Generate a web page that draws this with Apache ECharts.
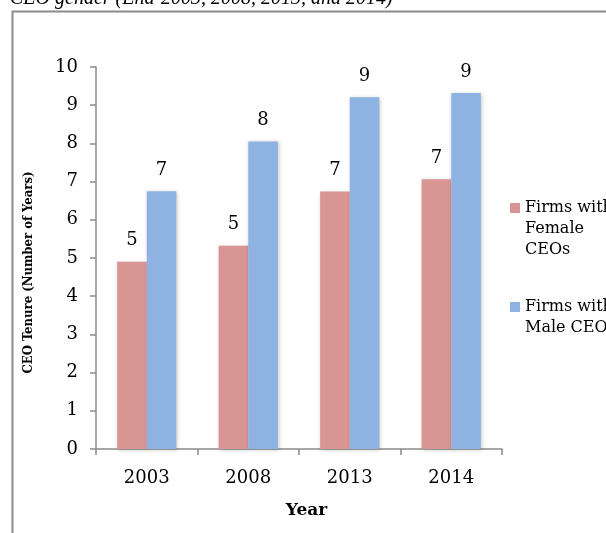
<!DOCTYPE html>
<html>
<head>
<meta charset="utf-8">
<style>
  html, body { margin: 0; padding: 0; background: #fff; }
  #chart { width: 606px; height: 533px; }
</style>
<script src="https://cdn.jsdelivr.net/npm/echarts@6/dist/echarts.min.js"></script>
</head>
<body>
<div id="chart"></div>
<script>
// Average CEO tenure (years) by year and CEO gender
const years = ['2003', '2008', '2013', '2014'];
const femaleTenure = [4.90, 5.32, 6.74, 7.06];
const maleTenure = [6.75, 8.05, 9.21, 9.32];
const seriesNames = ['Firms with Female CEOs', 'Firms with Male CEOs'];
const legendLines = [['Firms with', 'Female', 'CEOs'], ['Firms with', 'Male CEOs']];
const yTicks = [0, 1, 2, 3, 4, 5, 6, 7, 8, 9, 10];

const FEMALE_COLOR = '#D99594';
const MALE_COLOR = '#8EB3E2';
const FONT = '"DejaVu Serif", serif';
const NAME_FONT = '"DejaVu Serif Condensed", "Liberation Serif", serif';
const AXIS_GRAY = '#8a8a8a';

const chart = echarts.init(document.getElementById('chart'), null, { renderer: 'canvas' });

const barStyle = (color) => ({
  color: color,
  shadowColor: 'rgba(0,0,0,0.22)',
  shadowBlur: 4,
  shadowOffsetX: 1,
  shadowOffsetY: 1
});

const valueLabel = {
  show: true,
  position: 'top',
  distance: 12,
  fontFamily: FONT,
  fontSize: 18,
  color: '#000',
  formatter: (p) => String(Math.round(p.value))
};

// Legend drawn as swatch + wrapped text, first line aligned with the swatch
const legendColors = [FEMALE_COLOR, MALE_COLOR];
const legendTops = [203, 302];
const legendGraphics = [];
legendLines.forEach((lines, i) => {
  legendGraphics.push({
    type: 'rect',
    shape: { x: 510, y: legendTops[i], width: 10, height: 10 },
    style: { fill: legendColors[i] },
    silent: true
  });
  legendGraphics.push({
    type: 'text',
    x: 525,
    y: legendTops[i] + 5 - 10.5,
    style: {
      text: lines.join('\n'),
      font: '16px ' + FONT,
      lineHeight: 21,
      fill: '#000',
      verticalAlign: 'top'
    },
    silent: true
  });
});

const option = {
  animation: false,
  backgroundColor: '#fff',
  grid: { left: 96, right: 104, top: 67, bottom: 84, containLabel: false },
  xAxis: {
    type: 'category',
    data: years,
    name: 'Year',
    nameLocation: 'middle',
    nameGap: 53,
    nameTextStyle: { fontFamily: FONT, fontSize: 17, fontWeight: 'bold', color: '#000', padding: [0, 0, 0, 15] },
    axisLine: { lineStyle: { color: AXIS_GRAY, width: 1.5 } },
    axisTick: { show: true, alignWithLabel: false, length: 6, lineStyle: { color: AXIS_GRAY, width: 1.5 } },
    axisLabel: { fontFamily: FONT, fontSize: 18, color: '#000', margin: 20 }
  },
  yAxis: {
    type: 'value',
    min: yTicks[0],
    max: yTicks[yTicks.length - 1],
    interval: 1,
    name: 'CEO Tenure (Number of Years)',
    nameLocation: 'middle',
    nameGap: 61,
    nameRotate: 90,
    nameTextStyle: { fontFamily: NAME_FONT, fontSize: 13, fontWeight: 'bold', color: '#000', padding: [0, 29, 0, 0] },
    splitLine: { show: false },
    axisLine: { show: true, lineStyle: { color: AXIS_GRAY, width: 1.5 } },
    axisTick: { show: true, length: 6, lineStyle: { color: AXIS_GRAY, width: 1.5 } },
    axisLabel: { fontFamily: FONT, fontSize: 18, color: '#000', margin: 18 }
  },
  series: [
    {
      name: seriesNames[0],
      type: 'bar',
      data: femaleTenure,
      barWidth: 29.6,
      barGap: '0%',
      itemStyle: barStyle(FEMALE_COLOR),
      label: valueLabel
    },
    {
      name: seriesNames[1],
      type: 'bar',
      data: maleTenure,
      barWidth: 29.6,
      barGap: '0%',
      itemStyle: barStyle(MALE_COLOR),
      label: valueLabel
    }
  ],
  graphic: [
    // caption line above the framed chart
    {
      type: 'text',
      x: 10,
      y: 9,
      style: {
        text: 'CEO gender (End-2003, 2008, 2013, and 2014)',
        font: 'italic 20px "Liberation Serif", serif',
        fill: '#000',
        verticalAlign: 'bottom'
      },
      silent: true
    },
    // chart frame (left and top edges)
    {
      type: 'polyline',
      shape: { points: [[12.5, 533], [12.5, 11.5], [606, 11.5]] },
      style: { stroke: AXIS_GRAY, lineWidth: 2, fill: null },
      silent: true
    }
  ].concat(legendGraphics)
};

chart.setOption(option);
</script>
</body>
</html>
